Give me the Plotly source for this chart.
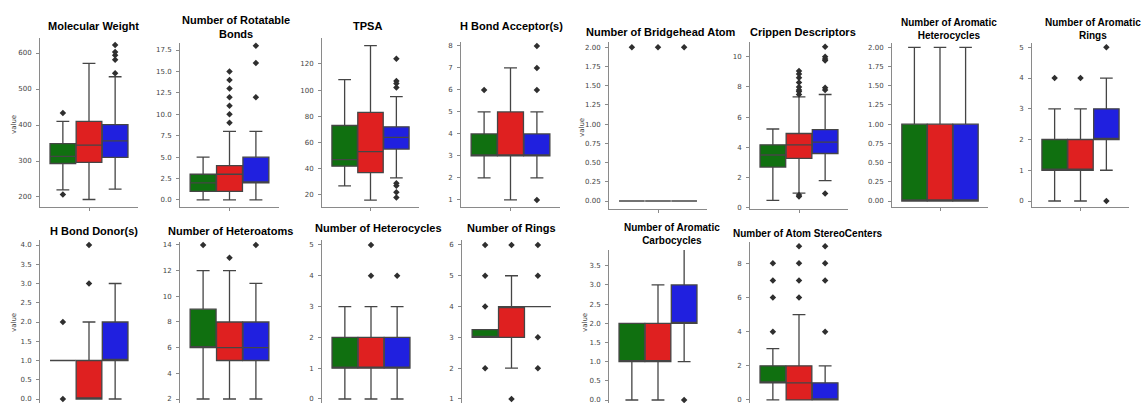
import plotly.graph_objects as go

W, H = 1144, 403

GROUPS = ["group 1", "group 2", "group 3"]
COLORS = ["#107010", "#df2020", "#2020df"]
OFFSETS = [-0.2667, 0.0, 0.2667]

# per group: [lower whisker, q1, median, q3, upper whisker]
mol_weight = [[220, 293, 313, 348, 410], [193, 296, 344, 410, 571], [222, 310, 356, 401, 534]]
mol_weight_out = [[433, 207], [], [544, 581, 594, 603, 622]]

rot_bonds = [[0, 1, 2, 3, 5], [0, 1, 3, 4, 8], [0, 2, 2, 5, 8]]
rot_bonds_out = [[], [9, 10, 11, 12, 13, 14, 15], [12, 16, 18]]

tpsa = [[27, 42, 47, 73, 108], [16, 37, 53, 83, 134], [33, 55, 64, 72, 95]]
tpsa_out = [[], [], [124, 107, 105, 102, 29, 27, 22, 18]]

hba = [[2, 3, 3, 4, 5], [1, 3, 3, 5, 7], [2, 3, 3, 4, 5]]
hba_out = [[6], [], [6, 7, 8, 1]]

bridge = [[0, 0, 0, 0, 0], [0, 0, 0, 0, 0], [0, 0, 0, 0, 0]]
bridge_out = [[2], [2], [2]]

crippen = [[0.5, 2.7, 3.5, 4.17, 5.22], [0.98, 3.28, 4.17, 4.92, 7.34], [1.8, 3.6, 4.35, 5.18, 7.5]]
crippen_out = [[], [7.5, 7.7, 7.8, 8.0, 8.3, 8.6, 8.85, 9.05, 0.85, 0.75], [7.8, 7.95, 9.75, 9.85, 10.0, 10.65, 0.95]]

aro_het = [[0, 0, 0, 1, 2], [0, 0, 0, 1, 2], [0, 0, 0, 1, 2]]
aro_het_out = [[], [], []]

aro_rings = [[0, 1, 1, 2, 3], [0, 1, 1, 2, 3], [1, 2, 2, 3, 4]]
aro_rings_out = [[4], [4], [5, 0]]

hbd = [[1, 1, 1, 1, 1], [0, 0, 0, 1, 2], [0, 1, 1, 2, 3]]
hbd_out = [[2, 0], [3, 4], []]

heteroatoms = [[2, 6, 6, 9, 12], [2, 5, 6, 8, 12], [2, 5, 6, 8, 11]]
heteroatoms_out = [[14], [13], [14]]

heterocycles = [[0, 1, 1, 2, 3], [0, 1, 1, 2, 3], [0, 1, 1, 2, 3]]
heterocycles_out = [[], [4, 5], [4]]

rings = [[3, 3, 3, 3.25, 3.25], [2, 3, 4, 4, 5], [4, 4, 4, 4, 4]]
rings_out = [[2, 4, 5, 6], [1, 6], [2, 3, 5, 6]]

aro_carbo = [[0, 1, 1, 2, 2], [0, 1, 1, 2, 3], [1, 2, 2, 3, 4]]
aro_carbo_out = [[], [], [0]]

stereo = [[0, 1, 1, 2, 3], [0, 0, 1, 2, 5], [0, 0, 0, 1, 2]]
stereo_out = [[4, 6, 7, 8], [6, 7, 8, 9], [4, 7, 8, 9]]

# tick values
mw_ticks = [200, 300, 400, 500, 600]
rot_ticks = [0, 2.5, 5, 7.5, 10, 12.5, 15, 17.5]
tpsa_ticks = [20, 40, 60, 80, 100, 120]
hba_ticks = [1, 2, 3, 4, 5, 6, 7, 8]
quarter_ticks = [0, 0.25, 0.5, 0.75, 1.0, 1.25, 1.5, 1.75, 2.0]
crippen_ticks = [0, 2, 4, 6, 8, 10]
aro_rings_ticks = [0, 1, 2, 3, 4, 5]
hbd_ticks = [0, 0.5, 1.0, 1.5, 2.0, 2.5, 3.0, 3.5, 4.0]
hetero_ticks = [2, 4, 6, 8, 10, 12, 14]
heterocyc_ticks = [0, 1, 2, 3, 4, 5]
rings_ticks = [1, 2, 3, 4, 5, 6]
aro_carbo_ticks = [0, 0.5, 1.0, 1.5, 2.0, 2.5, 3.0, 3.5]
stereo_ticks = [0, 2, 4, 6, 8]

# layout: title, stats, outliers, (x0, x1, ytop, ybot) pixels, yrange, ticks, fmt,
#         (title x, title y, anchor, font size), row
panels = [
    ("Molecular Weight", mol_weight, mol_weight_out, (40, 138, 38, 207), (172.2, 641.7), mw_ticks, "{:.0f}", (94, 26, "center", 11), 1),
    ("Number of Rotatable<br>Bonds", rot_bonds, rot_bonds_out, (180, 279, 43, 207), (-0.82, 18.32), rot_ticks, "{:.1f}", (236, 26.5, "center", 11), 1),
    ("TPSA", tpsa, tpsa_out, (322, 419, 38, 207), (10.8, 139.8), tpsa_ticks, "{:.0f}", (367, 26, "center", 11), 1),
    ("H Bond Acceptor(s)", hba, hba_out, (461, 560, 42, 207), (0.68, 8.18), hba_ticks, "{:.0f}", (511, 26, "center", 11), 1),
    ("Number of Bridgehead Atom", bridge, bridge_out, (609, 707, 42, 209), (-0.104, 2.069), quarter_ticks, "{:.2f}", (584, 32, "left", 11), 1),
    ("Crippen Descriptors", crippen, crippen_out, (750, 848, 42, 209), (-0.07, 10.97), crippen_ticks, "{:.0f}", (803, 32, "center", 11), 1),
    ("Number of Aromatic<br>Heterocycles", aro_het, aro_het_out, (892, 988, 43, 207), (-0.078, 2.056), quarter_ticks, "{:.2f}", (949, 29, "center", 10), 1),
    ("Number of Aromatic<br>Rings", aro_rings, aro_rings_out, (1032, 1129, 43, 207), (-0.195, 5.14), aro_rings_ticks, "{:.0f}", (1093, 29, "center", 10), 1),
    ("H Bond Donor(s)", hbd, hbd_out, (40, 138, 240, 403), (-0.104, 4.13), hbd_ticks, "{:.1f}", (94, 231, "center", 11), 2),
    ("Number of Heteroatoms", heteroatoms, heteroatoms_out, (180, 279, 242, 403), (1.69, 14.23), hetero_ticks, "{:.0f}", (166, 231, "left", 11), 2),
    ("Number of Heterocycles", heterocycles, heterocycles_out, (322, 420, 240, 403), (-0.13, 5.16), heterocyc_ticks, "{:.0f}", (378, 228, "center", 11), 2),
    ("Number of Rings", rings, rings_out, (462, 561, 240, 403), (0.87, 6.16), rings_ticks, "{:.0f}", (511, 228, "center", 11), 2),
    ("Number of Aromatic<br>Carbocycles", aro_carbo, aro_carbo_out, (609, 707, 250, 403), (-0.078, 3.91), aro_carbo_ticks, "{:.1f}", (672, 234, "center", 10), 2),
    ("Number of Atom StereoCenters", stereo, stereo_out, (750, 848, 242, 403), (-0.18, 9.25), stereo_ticks, "{:.0f}", (808, 233, "center", 10), 2),
]

value_labels = [(14, 125), (582, 128), (14, 323), (585, 323)]

LINE = "#454545"
AXIS = "#8a8a8a"
TICKFONT = dict(family="DejaVu Sans", size=7, color="#444444")


def px(x):
    return x / W


def py(y):
    return 1 - y / H


fig = go.Figure()
layout = dict(
    template="none",
    width=W, height=H, margin=dict(l=0, r=0, t=0, b=0, pad=0),
    paper_bgcolor="white", plot_bgcolor="white", showlegend=False,
    boxmode="overlay", annotations=[],
)

for i, (title, stats, outs, (x0, x1, yt, yb), yr, ticks, fmt, (tx, ty, talign, tsize), row) in enumerate(panels):
    n = i + 1
    xa, ya = f"x{n}", f"y{n}"
    for g in range(3):
        lo, q1, med, q3, hi = stats[g]
        fig.add_trace(go.Box(
            x=[OFFSETS[g]], q1=[q1], median=[med], q3=[q3], lowerfence=[lo], upperfence=[hi],
            width=0.262, whiskerwidth=0.5, fillcolor=COLORS[g], name=GROUPS[g],
            line=dict(color=LINE, width=1.3), boxpoints=False,
            xaxis=xa, yaxis=ya, showlegend=False, hoverinfo="skip",
        ))
        if outs[g]:
            fig.add_trace(go.Scatter(
                x=[OFFSETS[g]] * len(outs[g]), y=outs[g], mode="markers",
                marker=dict(symbol="diamond", size=5, color="#2f2f2f"),
                xaxis=xa, yaxis=ya, showlegend=False, hoverinfo="skip", cliponaxis=False,
            ))
    layout[f"xaxis{n}"] = dict(
        domain=[px(x0), px(x1)], range=[-0.5, 0.5], anchor=ya,
        showgrid=False, zeroline=False, showline=(row == 1), linecolor=AXIS, linewidth=1,
        tickmode="array", tickvals=[0] if row == 1 else [], ticktext=[""],
        ticks="outside" if row == 1 else "", ticklen=3, tickcolor=AXIS, fixedrange=True,
    )
    layout[f"yaxis{n}"] = dict(
        domain=[max(0.0, py(yb)), py(yt)], range=list(yr), anchor=xa,
        showgrid=False, zeroline=False, showline=True, linecolor=AXIS, linewidth=1,
        tickmode="array", tickvals=ticks, ticktext=[fmt.format(t) for t in ticks],
        ticks="outside", ticklen=3, tickcolor=AXIS, tickfont=TICKFONT,
        ticklabelstandoff=3, ticklabeloverflow="allow", fixedrange=True,
    )
    layout["annotations"].append(dict(
        text=f"<b>{title}</b>", xref="paper", yref="paper", x=px(tx), y=py(ty),
        xanchor=talign, yanchor="middle", showarrow=False, align="center",
        font=dict(family="Liberation Sans", size=tsize, color="black"),
    ))

for (vx, vy) in value_labels:
    layout["annotations"].append(dict(
        text="value", xref="paper", yref="paper", x=px(vx), y=py(vy),
        xanchor="center", yanchor="middle", showarrow=False, textangle=-90,
        font=dict(family="DejaVu Sans", size=7, color="#444444"),
    ))

fig.update_layout(**layout)
fig.write_html(
    "out.html",
    config={"displayModeBar": False, "staticPlot": True},
    post_script="document.body.style.margin='0';"
                "document.documentElement.style.overflow='hidden';"
                "document.body.style.overflow='hidden';",
)
